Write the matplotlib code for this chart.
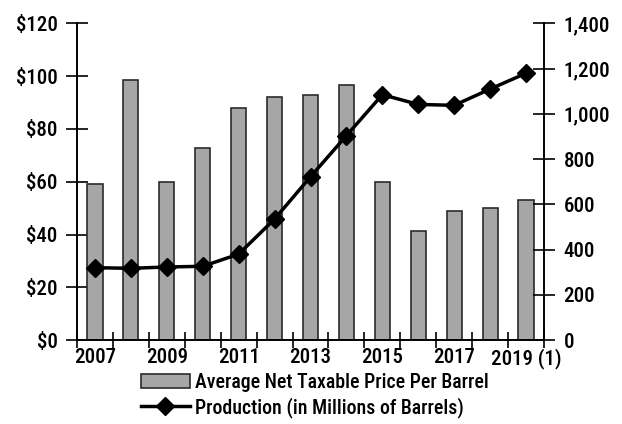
import matplotlib
matplotlib.use("Agg")
import matplotlib.pyplot as plt
from matplotlib import font_manager
from matplotlib.ticker import FuncFormatter
import numpy as np

years = ["2007", "2008", "2009", "2010", "2011", "2012", "2013",
         "2014", "2015", "2016", "2017", "2018", "2019 (1)"]
price = [59, 98.5, 60, 72.8, 88, 92, 93, 96.5, 60, 41.5, 49, 50, 53]
production = [320, 317, 323, 326, 380, 535, 722, 904, 1085, 1042, 1038, 1110, 1180]

# look for a narrow face, the original uses a condensed sans
pick = None
for key in ['RobotoCondensed-Medium', 'RobotoCondensed-Bold', 'RobotoCondensed',
            'DejaVuSansCondensed-Bold', 'DejaVuSansCondensed',
            'OpenSans_Condensed-SemiBold', 'OpenSansCondensed',
            'LiberationSansNarrow-Bold', 'LiberationSansNarrow']:
    for f in font_manager.fontManager.ttflist:
        if key.lower() in f.fname.replace(' ', '').lower():
            pick = f
            break
    if pick:
        break

if pick:
    plt.rcParams['font.family'] = [pick.name, 'DejaVu Sans']
    plt.rcParams['font.stretch'] = pick.stretch
    plt.rcParams['font.weight'] = pick.weight
    fs = 15
    lfs = 14.3
else:
    plt.rcParams['font.family'] = ['DejaVu Sans']
    fs = 12.5
    lfs = 12

fig = plt.figure(figsize=(6.22, 4.24), dpi=100)
ax = fig.add_axes([0.1238, 0.1981, 0.7508, 0.7465])
ax2 = ax.twinx()

x = np.arange(len(years))
bars = ax.bar(x, price, 0.42, color='#a6a6a6', edgecolor='#2b2b2b', linewidth=1.2,
              label='Average Net Taxable Price Per Barrel', zorder=2)
line, = ax2.plot(x, production, color='black', linewidth=2.5, marker='D', markersize=9,
                 label='Production (in Millions of Barrels)', zorder=3)

ax.set_xlim(-0.5, len(years) - 0.5)
ax.set_ylim(0, 120)
ax2.set_ylim(0, 1400)
ax.set_yticks(range(0, 121, 20))
ax.yaxis.set_major_formatter(FuncFormatter(lambda v, p: "${:.0f}".format(v)))
ax2.set_yticks(range(0, 1401, 200))
ax2.yaxis.set_major_formatter(FuncFormatter(lambda v, p: "{:,.0f}".format(v)))

# tick marks at category boundaries, labels on every other year
ax.set_xticks(np.arange(-0.5, len(years), 1.0))
ax.set_xticklabels([])
ax.set_xticks(x[::2], minor=True)
ax.set_xticklabels([years[i] for i in x[::2]], minor=True)
ax.tick_params(axis='x', which='major', direction='inout', length=12, width=1.2)
ax.tick_params(axis='x', which='minor', length=0, labelsize=fs, pad=6)
ax.tick_params(axis='y', direction='inout', length=16, width=1.2, labelsize=fs, pad=6)
ax2.tick_params(axis='y', direction='inout', length=16, width=1.2, labelsize=fs, pad=6)

for a in (ax, ax2):
    a.spines['top'].set_visible(False)
    for s in ('left', 'right', 'bottom'):
        a.spines[s].set_linewidth(1.2)

ax.set_zorder(1)
ax2.set_zorder(2)
ax.patch.set_visible(False)

fig.legend([bars, line], [bars.get_label(), line.get_label()],
           loc='center', bbox_to_anchor=(0.506, 0.068), frameon=False,
           fontsize=lfs, handlelength=2.5, handletextpad=0.25, labelspacing=0.25,
           borderpad=0)

fig.savefig("out.png", dpi=100)
